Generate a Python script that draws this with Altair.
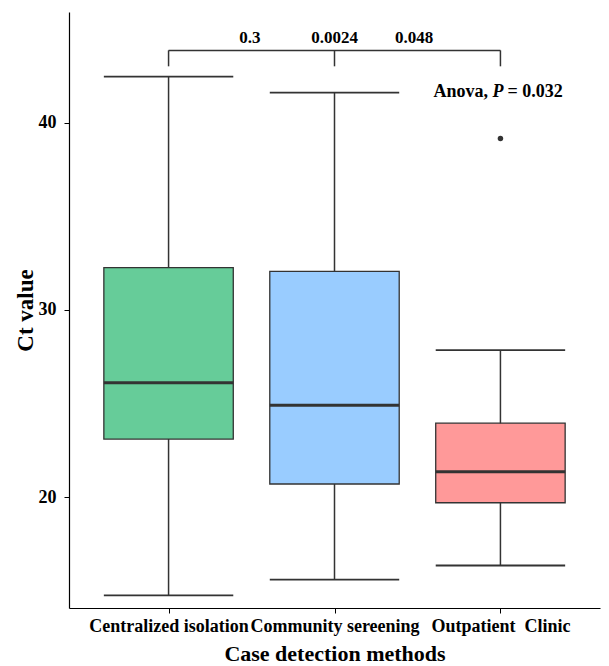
import altair as alt
import pandas as pd

categories = ["Centralized isolation", "Community sereening", "Outpatient\u00a0\u00a0Clinic"]
positions = [1, 2, 3]
lower = [14.75, 15.6, 16.35]
q1 = [23.1, 20.7, 19.7]
median = [26.1, 24.9, 21.35]
q3 = [32.25, 32.05, 23.95]
upper = [42.45, 41.6, 27.85]
colors = ["#66CC99", "#99CCFF", "#FF9999"]

outlier_pos = [3]
outlier_val = [39.15]

pair_labels = ["0.3", "0.0024", "0.048"]
pair_pos = [1.49, 2.0, 2.48]
bracket_y = 43.85
bracket_tick_bottom = 43.0
label_y = 44.5
anova_y = 41.65

box_half = 0.39
FONT = "Liberation Serif"
DARK = "#333333"

df = pd.DataFrame({
    "cat": categories, "pos": positions, "lower": lower, "q1": q1,
    "median": median, "q3": q3, "upper": upper, "color": colors,
})
out_df = pd.DataFrame({"pos": outlier_pos, "val": outlier_val})
lab_df = pd.DataFrame({"pos": pair_pos, "label": pair_labels})
br_df = pd.DataFrame({"x1": [min(positions)], "x2": [max(positions)], "y": [bracket_y]})
brt_df = pd.DataFrame({"pos": positions, "y1": [bracket_tick_bottom] * 3, "y2": [bracket_y] * 3})

label_expr = "datum.value == 1 ? '%s' : datum.value == 2 ? '%s' : '%s'" % tuple(categories)

xscale = alt.Scale(domain=[0.4, 3.6], nice=False, zero=False)
yscale = alt.Scale(domain=[14.08, 45.9], nice=False, zero=False)

X = alt.X("pos:Q", scale=xscale, axis=alt.Axis(
    values=positions, labelExpr=label_expr, title="Case detection methods",
    grid=False, tickSize=5, labelFont=FONT, labelFontSize=18, labelFontWeight="bold",
    labelColor="#000", titleFont=FONT, titleFontSize=22, titleFontWeight="bold",
    titleColor="#000", domainColor="#000", tickColor="#000", labelPadding=4,
    titlePadding=8, domainWidth=1.2, labelFlush=False, labelOverlap=False))
Y = alt.Y("lower:Q", scale=yscale, axis=alt.Axis(
    values=[20, 30, 40], title="Ct value", grid=False, tickSize=5,
    labelFont=FONT, labelFontSize=18, labelFontWeight="bold", labelColor="#000",
    titleFont=FONT, titleFontSize=23, titleFontWeight="bold", titleColor="#000",
    domainColor="#000", tickColor="#000", labelPadding=8, titlePadding=1, domainWidth=1.2))

base = alt.Chart(df)
calc = dict(xl=f"datum.pos - {box_half}", xr=f"datum.pos + {box_half}")

whisker = base.mark_rule(color=DARK, strokeWidth=1.5).encode(x=X, y=Y, y2="upper:Q")

box = base.transform_calculate(**calc).mark_rect(stroke=DARK, strokeWidth=1.3).encode(
    x=alt.X("xl:Q", scale=xscale), x2="xr:Q",
    y=alt.Y("q1:Q", scale=yscale), y2="q3:Q",
    fill=alt.Fill("color:N", scale=None),
)

med = base.transform_calculate(**calc).mark_rule(color=DARK, strokeWidth=3).encode(
    x=alt.X("xl:Q", scale=xscale), x2="xr:Q", y=alt.Y("median:Q", scale=yscale))

cap_lo = base.transform_calculate(**calc).mark_rule(color=DARK, strokeWidth=1.8).encode(
    x=alt.X("xl:Q", scale=xscale), x2="xr:Q", y=alt.Y("lower:Q", scale=yscale))

cap_hi = base.transform_calculate(**calc).mark_rule(color=DARK, strokeWidth=1.8).encode(
    x=alt.X("xl:Q", scale=xscale), x2="xr:Q", y=alt.Y("upper:Q", scale=yscale))

outl = alt.Chart(out_df).mark_circle(color=DARK, opacity=1, size=30).encode(
    x=alt.X("pos:Q", scale=xscale), y=alt.Y("val:Q", scale=yscale))

br = alt.Chart(br_df).mark_rule(color=DARK, strokeWidth=1.5).encode(
    x=alt.X("x1:Q", scale=xscale), x2="x2:Q", y=alt.Y("y:Q", scale=yscale))
brt = alt.Chart(brt_df).mark_rule(color=DARK, strokeWidth=1.5).encode(
    x=alt.X("pos:Q", scale=xscale), y=alt.Y("y1:Q", scale=yscale), y2="y2:Q")

labels = alt.Chart(lab_df).transform_calculate(y=str(label_y)).mark_text(
    font=FONT, fontSize=17, fontWeight="bold", color="#000", baseline="middle"
).encode(x=alt.X("pos:Q", scale=xscale), y=alt.Y("y:Q", scale=yscale), text="label:N")

anova_df = pd.DataFrame({"pos": [3], "y": [anova_y]})
common = dict(font=FONT, fontSize=18, fontWeight="bold", color="#000", align="left", baseline="middle")
a1 = alt.Chart(anova_df).mark_text(dx=-67, text="Anova,", **common).encode(
    x=alt.X("pos:Q", scale=xscale), y=alt.Y("y:Q", scale=yscale))
a2 = alt.Chart(anova_df).mark_text(dx=-8, text="P", fontStyle="italic", **common).encode(
    x=alt.X("pos:Q", scale=xscale), y=alt.Y("y:Q", scale=yscale))
a3 = alt.Chart(anova_df).mark_text(dx=7, text="= 0.032", **common).encode(
    x=alt.X("pos:Q", scale=xscale), y=alt.Y("y:Q", scale=yscale))

chart = alt.layer(whisker, box, med, cap_lo, cap_hi, outl, br, brt, labels, a1, a2, a3).properties(
    width=531, height=596,
    autosize=alt.AutoSizeParams(type="none"),
    padding={"left": 69, "top": 12, "right": 9, "bottom": 58},
    background="white",
).configure_view(stroke=None)

chart.save("out.html", embed_options={"renderer": "svg", "actions": False})
